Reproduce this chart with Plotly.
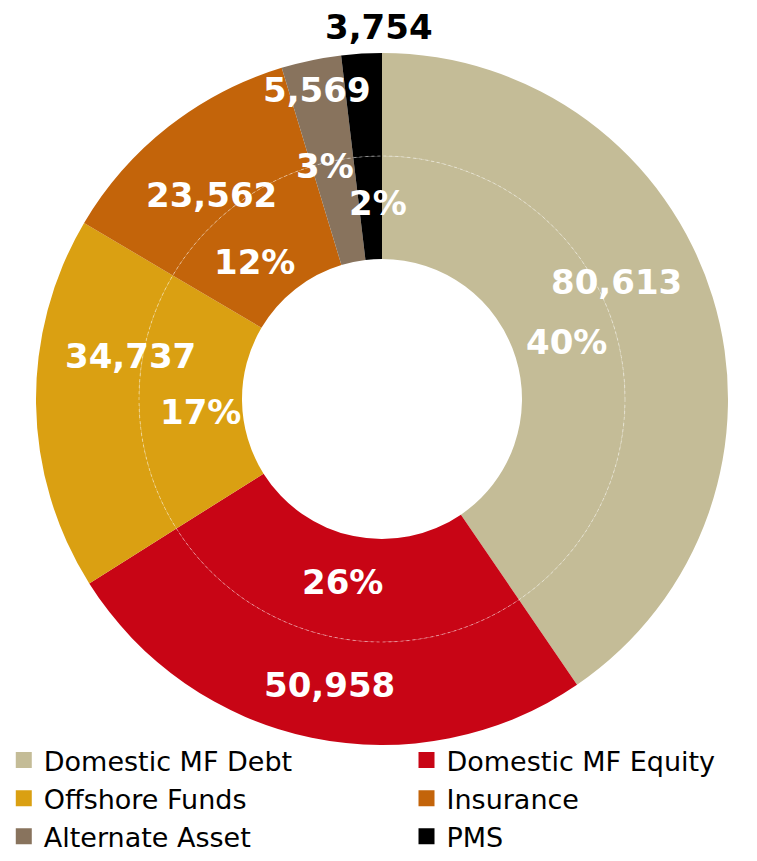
import math
import plotly.graph_objects as go

categories = ["Domestic MF Debt", "Domestic MF Equity", "Offshore Funds",
              "Insurance", "Alternate Asset", "PMS"]
values = [80613, 50958, 34737, 23562, 5569, 3754]
colors = ["#C4BC97", "#C80515", "#DAA012", "#C3640A", "#88735D", "#000000"]

W, H = 757, 861
cx, cy = 382, 399
r_out, r_mid, r_in = 346, 243, 140

# label placement tweaks (angle offset in degrees, radius in px) per slice
outer_adj = [(-9.4, 262), (-1.4, 291), (10.5, 255), (-1.7, 266), (0.0, 316), (3.0, 372)]
inner_adj = [(0.0, 193), (0.3, 187), (-3.3, 182), (-4.7, 187), (-2.0, 240), (2.2, 196)]
outer_col = ["white"] * 5 + ["black"]


def dom(r):
    return dict(x=[(cx - r) / W, (cx + r) / W],
                y=[1 - (cy + r) / H, 1 - (cy - r) / H])


total = sum(values)
pct_text = [f"{round(v / total * 100):.0f}%" for v in values]
val_text = [f"{v:,}" for v in values]

# mid angles (clockwise from 12 o'clock)
mids = []
acc = 0
for v in values:
    mids.append((acc + v / 2) / total * 360)
    acc += v

fig = go.Figure()
fig.add_trace(go.Pie(
    labels=categories, values=values, sort=False, direction="clockwise",
    rotation=0, hole=r_mid / r_out, domain=dom(r_out),
    marker=dict(colors=colors, line=dict(width=0)),
    textinfo="none", showlegend=False, hoverinfo="label+value",
))
fig.add_trace(go.Pie(
    labels=categories, values=values, sort=False, direction="clockwise",
    rotation=0, hole=r_in / r_mid, domain=dom(r_mid),
    marker=dict(colors=colors, line=dict(width=0)),
    textinfo="none", showlegend=False, hoverinfo="label+percent",
))

# legend entries: two columns (left column -> legend, right column -> legend2)
for i, (name, col) in enumerate(zip(categories, colors)):
    fig.add_trace(go.Scatter(
        x=[None], y=[None], mode="markers", name=name,
        marker=dict(symbol="square", size=17, color=col),
        legend="legend" if i % 2 == 0 else "legend2", hoverinfo="skip",
    ))

fig.add_shape(type="circle", xref="paper", yref="paper",
              x0=(cx - r_mid) / W, x1=(cx + r_mid) / W,
              y0=1 - (cy + r_mid) / H, y1=1 - (cy - r_mid) / H,
              line=dict(color="rgba(255,255,255,0.45)", width=1, dash="dot"))

lab_font = dict(family="DejaVu Sans", size=34, weight="bold")


def add_label(text, ang, r, color):
    a = math.radians(ang)
    px = cx + r * math.sin(a)
    py = cy - r * math.cos(a)
    fig.add_annotation(x=px / W, y=1 - py / H, xref="paper", yref="paper",
                       text=text, showarrow=False, xanchor="center", yanchor="middle",
                       font=dict(color=color, **lab_font))


for i in range(len(values)):
    da, r = outer_adj[i]
    add_label(val_text[i], mids[i] + da, r, outer_col[i])
    da, r = inner_adj[i]
    add_label(pct_text[i], mids[i] + da, r, "white")

leg_common = dict(orientation="v", yanchor="bottom", y=0.0, xanchor="left",
                  font=dict(size=27, family="DejaVu Sans", color="black"),
                  itemwidth=30, traceorder="normal", bgcolor="rgba(0,0,0,0)",
                  itemclick=False, itemdoubleclick=False)

fig.update_layout(
    width=W, height=H, margin=dict(l=0, r=0, t=0, b=0),
    paper_bgcolor="white", plot_bgcolor="white",
    font=dict(family="DejaVu Sans", color="black"),
    xaxis=dict(visible=False), yaxis=dict(visible=False),
    legend=dict(x=0.005, **leg_common),
    legend2=dict(x=0.537, **leg_common),
)

fig.write_html("out.html", config={"displayModeBar": False},
               post_script="document.body.style.margin='0';document.body.style.overflow='hidden';")
